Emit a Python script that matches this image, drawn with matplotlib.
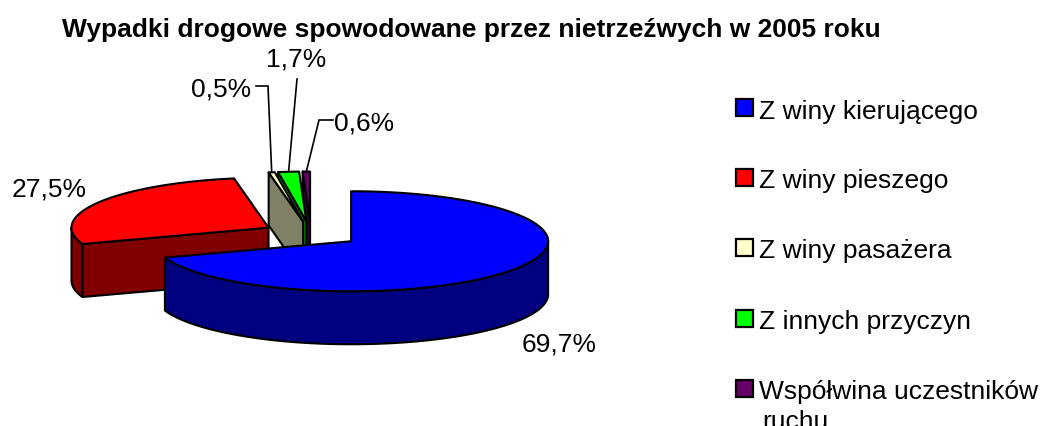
import numpy as np
import matplotlib
matplotlib.use('Agg')
import matplotlib.pyplot as plt
from matplotlib.patches import Polygon, Rectangle

plt.rcParams['font.family'] = ['Liberation Sans', 'DejaVu Sans']

title = "Wypadki drogowe spowodowane przez nietrzeźwych w 2005 roku"
categories = ["Z winy kierującego", "Z winy pieszego", "Z winy pasażera",
              "Z innych przyczyn", "Współwina uczestników\nruchu"]
values = [69.7, 27.5, 0.5, 1.7, 0.6]
top_colors = ['#0000FF', '#FF0000', '#FFFFCC', '#00FF00', '#660066']
side_colors = ['#000080', '#800000', '#808066', '#008000', '#330033']

W, H = 1046, 427
fig = plt.figure(figsize=(W / 100, H / 100), dpi=100)
ax = fig.add_axes([0, 0, 1, 1])
ax.set_xlim(0, W)
ax.set_ylim(H, 0)
ax.axis('off')

# 3D pie geometry (pixel space)
cx, cy = 311, 235
rx, ry = 197, 50
depth = 53
explode = 0.25
LW = 1.5

fracs = np.array(values) / sum(values)
cum = np.concatenate([[0], np.cumsum(fracs)])
his = 90 - cum[:-1] * 360
los = 90 - cum[1:] * 360


def pt(c, ang, dz=0.0):
    a = np.radians(ang)
    return (c[0] + rx * np.cos(a), c[1] - ry * np.sin(a) + dz)


def arc(c, a, b, dz=0.0, n=None):
    if n is None:
        n = max(2, int(abs(b - a) / 1.0) + 2)
    return [pt(c, t, dz) for t in np.linspace(a, b, n)]


def front_intervals(lo, hi):
    out = []
    for k in range(-2, 3):
        a, b = max(lo, -180 + 360 * k), min(hi, 360 * k)
        if b > a:
            out.append((a, b))
    return out


slices = []
for i in range(len(values)):
    lo, hi = los[i], his[i]
    mid = np.radians((lo + hi) / 2)
    c = (cx + explode * rx * np.cos(mid), cy - explode * ry * np.sin(mid))
    top = [c] + arc(c, lo, hi)
    key = max(p[1] for p in top)
    slices.append((key, i, c, lo, hi, top))

rims = {}
for key, i, c, lo, hi, top in sorted(slices, key=lambda s: s[0]):
    # cut faces
    for ang, nrm in ((lo, lo - 90), (hi, hi + 90)):
        if np.sin(np.radians(nrm)) < 0:
            p = pt(c, ang)
            face = [c, p, (p[0], p[1] + depth), (c[0], c[1] + depth)]
            ax.add_patch(Polygon(face, closed=True, facecolor=side_colors[i],
                                 edgecolor='black', lw=LW, joinstyle='round'))
    # outer wall
    for a, b in front_intervals(lo, hi):
        wall = arc(c, a, b) + arc(c, b, a, dz=depth)
        ax.add_patch(Polygon(wall, closed=True, facecolor=side_colors[i],
                             edgecolor='black', lw=LW, joinstyle='round'))
    ax.add_patch(Polygon(top, closed=True, facecolor=top_colors[i],
                         edgecolor='black', lw=LW, joinstyle='round'))
    rims[i] = pt(c, (lo + hi) / 2)

# data labels
label_texts = [f"{v:.1f}".replace('.', ',') + '%' for v in values]
label_pos = [(559, 352, 'center'), (49.5, 197, 'center'), (251, 96.5, 'right'),
             (296.5, 66, 'center'), (334, 130.5, 'left')]
leaders = [None, None, [(256, 87), (268, 87)], [(297, 80)], [(333, 121), (319, 121)]]
for i, (x, y, ha) in enumerate(label_pos):
    ax.text(x, y, label_texts[i], ha=ha, va='baseline', fontsize=19, color='black')
    if leaders[i] is not None:
        pts = leaders[i] + [rims[i]]
        ax.plot([p[0] for p in pts], [p[1] for p in pts], color='black', lw=1.2,
                solid_joinstyle='miter')

# title
ax.text(471.5, 37, title, ha='center', va='baseline', fontsize=19,
        fontweight='bold', color='black')

# legend
leg_y = [108.5, 178.5, 248.5, 319, 389]
for i, name in enumerate(categories):
    yc = leg_y[i]
    ax.add_patch(Rectangle((736, yc - 8.5), 17, 17, facecolor=top_colors[i],
                           edgecolor='black', lw=1.6))
    lines = name.split('\n')
    for j, ln in enumerate(lines):
        ax.text(759 if j == 0 else 762, yc + 10 + 30.5 * j, ln, ha='left',
                va='baseline', fontsize=19, color='black')

fig.savefig('out.png', dpi=100)
